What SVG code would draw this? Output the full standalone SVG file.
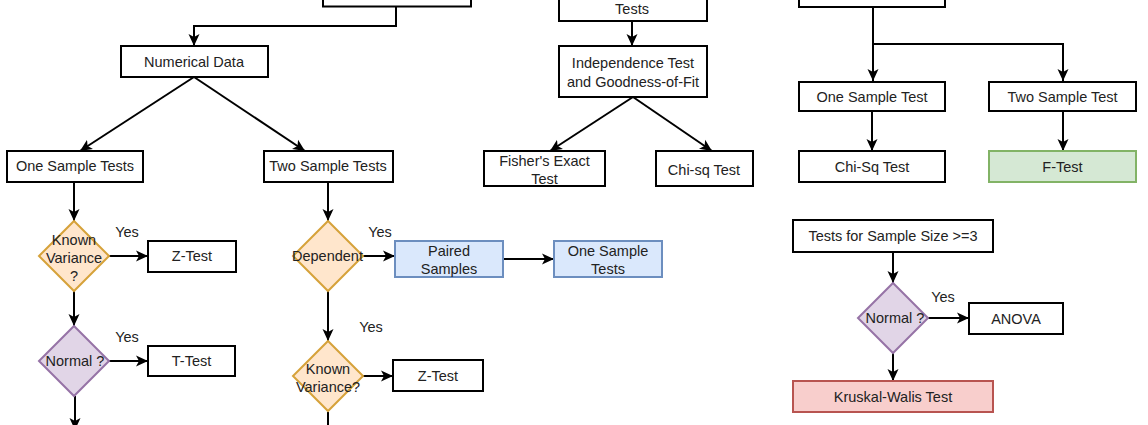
<svg xmlns="http://www.w3.org/2000/svg" width="1148" height="425" viewBox="0 0 1148 425">
<style>
.b{fill:#fff;stroke:#000;stroke-width:2}
.or{fill:#ffe6cc;stroke:#d6a23a;stroke-width:2}
.pu{fill:#e1d5e7;stroke:#9673a6;stroke-width:2}
.bl{fill:#dae8fc;stroke:#6c8ebf;stroke-width:2}
.gr{fill:#d5e8d4;stroke:#82b366;stroke-width:2}
.rd{fill:#f8cecc;stroke:#b85450;stroke-width:2}
text{font-family:"Liberation Sans",Arial,sans-serif;font-size:14.5px;fill:#222;text-anchor:middle}
.c{fill:none;stroke:#000;stroke-width:2;marker-end:url(#a)}
.n{fill:none;stroke:#000;stroke-width:2}
</style>
<defs>
<marker id="a" markerUnits="userSpaceOnUse" markerWidth="13" markerHeight="13" viewBox="0 0 13 13" refX="12" refY="6.5" orient="auto">
<path d="M0,1 L12,6.5 L0,12 L3,6.5 z" fill="#000"/>
</marker>
</defs>
<rect width="1148" height="425" fill="#fff"/>
<g id="connectors">
<path class="c" d="M396,7 V26 H194 V46"/>
<path class="c" d="M194,77 L80,151"/>
<path class="c" d="M194,77 L305,151"/>
<path class="c" d="M74,182 V221"/>
<path class="c" d="M109,256 H148"/>
<path class="c" d="M74,291 V326"/>
<path class="c" d="M109,361 H148"/>
<path class="c" d="M75,396 V430"/>
<path class="c" d="M355,256 H395"/>
<path class="c" d="M328,182 V221"/>
<path class="c" d="M503,259 H554"/>
<path class="c" d="M328,291 V341"/>
<path class="c" d="M363,376 H393"/>
<path class="n" d="M328,412 V430"/>
<path class="c" d="M632,21 V46"/>
<path class="c" d="M633,97 L550,151"/>
<path class="c" d="M633,97 L712,151"/>
<path class="c" d="M873,7 V81"/>
<path class="c" d="M873,44 H1063 V81"/>
<path class="c" d="M872,111 V151"/>
<path class="c" d="M1063,111 V151"/>
<path class="c" d="M893,252 V283"/>
<path class="c" d="M928,318 H969"/>
<path class="c" d="M893,353 V381"/>
</g>
<g id="top-left"><rect class="b" x="323" y="-30" width="148" height="36.5"/></g>
<g id="top-mid"><rect class="b" x="559" y="-30" width="148" height="51"/><text x="632" y="14">Tests</text></g>
<g id="top-right"><rect class="b" x="799" y="-30" width="146" height="37"/></g>
<g id="numerical"><rect class="b" x="121" y="46" width="147" height="31"/><text x="194" y="67">Numerical Data</text></g>
<g id="one-sample"><rect class="b" x="7" y="151" width="136" height="31"/><text x="75" y="171">One Sample Tests</text></g>
<g id="two-sample"><rect class="b" x="264" y="151" width="129" height="31"/><text x="328" y="171">Two Sample Tests</text></g>
<g id="known-var1"><path class="or" d="M74,221 L109,256 L74,291 L39,256 Z"/><text x="74" y="245">Known</text><text x="74" y="263">Variance</text><text x="74" y="281">?</text></g>
<g id="yes1"><text x="127" y="237">Yes</text></g>
<g id="ztest1"><rect class="b" x="148" y="241" width="88" height="31"/><text x="192" y="261">Z-Test</text></g>
<g id="normal1"><path class="pu" d="M74,326 L109,361 L74,396 L39,361 Z"/><text x="75" y="366">Normal ?</text></g>
<g id="yes2"><text x="127" y="342">Yes</text></g>
<g id="ttest"><rect class="b" x="148" y="346" width="87" height="30"/><text x="191.5" y="366">T-Test</text></g>
<g id="dependent"><path class="or" d="M328,221 L363,256 L328,291 L293,256 Z"/><text x="327.5" y="261">Dependent</text></g>
<g id="yes3"><text x="380" y="237">Yes</text></g>
<g id="paired"><rect class="bl" x="395" y="241" width="108" height="36"/><text x="449" y="256">Paired</text><text x="449" y="274">Samples</text></g>
<g id="one-sample-tests2"><rect class="bl" x="554" y="241" width="108" height="36"/><text x="608" y="256">One Sample</text><text x="608" y="274">Tests</text></g>
<g id="yes4"><text x="371" y="332">Yes</text></g>
<g id="known-var2"><path class="or" d="M328,341 L363,376 L328,411 L293,376 Z"/><text x="328" y="374">Known</text><text x="328" y="392">Variance?</text></g>
<g id="ztest2"><rect class="b" x="393" y="360" width="90" height="31"/><text x="438" y="380.5">Z-Test</text></g>
<g id="independence"><rect class="b" x="559" y="46" width="148" height="51"/><text x="633" y="68">Independence Test</text><text x="633" y="87">and Goodness-of-Fit</text></g>
<g id="fisher"><rect class="b" x="484" y="151" width="121" height="35"/><text x="544.5" y="166">Fisher's Exact</text><text x="544.5" y="184">Test</text></g>
<g id="chisq"><rect class="b" x="656" y="151" width="97" height="35"/><text x="704" y="175">Chi-sq Test</text></g>
<g id="one-sample-test"><rect class="b" x="799" y="82" width="146" height="29"/><text x="872" y="101.5">One Sample Test</text></g>
<g id="two-sample-test"><rect class="b" x="989" y="82" width="147" height="29"/><text x="1062.5" y="101.5">Two Sample Test</text></g>
<g id="chisq-test"><rect class="b" x="799" y="151" width="146" height="31"/><text x="872" y="171.5">Chi-Sq Test</text></g>
<g id="ftest"><rect class="gr" x="989" y="151" width="147" height="31"/><text x="1062.5" y="171.5">F-Test</text></g>
<g id="tests-size"><rect class="b" x="793" y="220" width="200" height="32"/><text x="893" y="241">Tests for Sample Size &gt;=3</text></g>
<g id="normal2"><path class="pu" d="M893,283 L928,318 L893,353 L858,318 Z"/><text x="895" y="323">Normal ?</text></g>
<g id="yes5"><text x="943" y="302">Yes</text></g>
<g id="anova"><rect class="b" x="969" y="303" width="94" height="31"/><text x="1016" y="323.5">ANOVA</text></g>
<g id="kruskal"><rect class="rd" x="793" y="381" width="200" height="31"/><text x="893" y="401.5">Kruskal-Walis Test</text></g>
</svg>
